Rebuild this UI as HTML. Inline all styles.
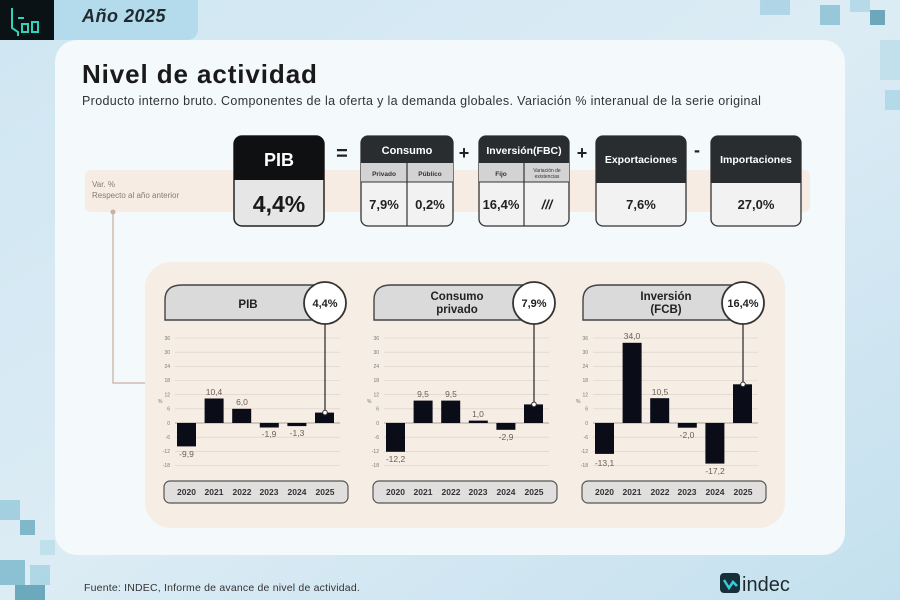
<!DOCTYPE html>
<html><head><meta charset="utf-8"><style>
html,body{margin:0;padding:0;width:900px;height:600px;overflow:hidden;background:#d5e8f2}
svg{display:block}
text{font-family:"Liberation Sans","DejaVu Sans",sans-serif}
</style></head><body>
<svg width="900" height="600" viewBox="0 0 900 600" xmlns="http://www.w3.org/2000/svg">
<defs>
<linearGradient id="bg" x1="0" y1="0" x2="1" y2="1">
<stop offset="0" stop-color="#cfe6f2"/><stop offset="0.5" stop-color="#dcecf5"/><stop offset="1" stop-color="#c4e0ee"/>
</linearGradient>
</defs>
<rect width="900" height="600" fill="url(#bg)"/>
<g opacity="0.7">
<rect x="0" y="500" width="20" height="20" fill="#8cc4d6"/><rect x="20" y="520" width="15" height="15" fill="#5aa3b8"/>
<rect x="0" y="560" width="25" height="25" fill="#6ab0c4"/><rect x="30" y="565" width="20" height="20" fill="#9ccfe0"/>
<rect x="15" y="585" width="30" height="15" fill="#3f8ea6"/><rect x="40" y="540" width="15" height="15" fill="#b5dce8"/>
<rect x="760" y="0" width="30" height="15" fill="#9fcde0"/><rect x="820" y="5" width="20" height="20" fill="#7ab9cf"/>
<rect x="870" y="10" width="15" height="15" fill="#3e8aa3"/><rect x="850" y="0" width="20" height="12" fill="#a8d3e3"/>
<rect x="880" y="40" width="20" height="40" fill="#b8dcea"/><rect x="885" y="90" width="15" height="20" fill="#a6d2e3"/>
</g>
<rect x="0" y="0" width="54" height="40" fill="#0b1216"/>
<path d="M12,8 V28 L18,32 V36 M18,18 H24 M22,24 h6 v8 h-6z M32,22 h6 v10 h-6z" stroke="#2fd3b5" stroke-width="2" fill="none"/>
<path d="M54,0 H198 V28 Q198,40 186,40 H54Z" fill="#b3dbeb"/>
<text x="82" y="22" font-size="18" font-style="italic" font-weight="bold" fill="#1f2a30" letter-spacing="0.5">Año 2025</text>
<rect x="55" y="40" width="790" height="515" rx="22" fill="#f4f9fc"/>
<text x="82" y="83" font-size="26" font-weight="bold" fill="#1a1a1a" letter-spacing="0.9">Nivel de actividad</text>
<text x="82" y="105" font-size="12.5" fill="#333" letter-spacing="0.35">Producto interno bruto. Componentes de la oferta y la demanda globales. Variación % interanual de la serie original</text>
<rect x="85" y="170" width="725" height="42" rx="6" fill="#f6ece4"/>
<text x="92" y="187" font-size="8" fill="#8a7a6e">Var. %</text>
<text x="92" y="198" font-size="8" fill="#8a7a6e">Respecto al año anterior</text>
<path d="M113,212 V383 H165" stroke="#c9b2a3" stroke-width="1.3" fill="none"/>
<circle cx="113" cy="212" r="2.5" fill="#c9b2a3"/>
<rect x="234" y="136" width="90" height="90" rx="8" fill="#e6e6e6" stroke="#222" stroke-width="1.5"/>
<path d="M234,180 V144 Q234,136 242,136 H316 Q324,136 324,144 V180Z" fill="#0f1012"/>
<text x="279" y="166" font-size="18" font-weight="bold" fill="#fff" text-anchor="middle">PIB</text>
<text x="279" y="212" font-size="23" font-weight="bold" fill="#1a1a1a" text-anchor="middle">4,4%</text>
<text x="342" y="160" font-size="20" font-weight="bold" fill="#222" text-anchor="middle">=</text>
<rect x="361" y="136" width="92" height="90" rx="7" fill="#f2f2f2" stroke="#333" stroke-width="1.3"/>
<path d="M361,163 V143 Q361,136 368,136 H446 Q453,136 453,143 V163Z" fill="#2a2d30"/>
<rect x="361" y="163" width="92" height="19" fill="#d3d3d3"/>
<line x1="407" y1="163" x2="407" y2="226" stroke="#333" stroke-width="1.2"/>
<line x1="361" y1="182" x2="453" y2="182" stroke="#333" stroke-width="1"/>
<text x="407" y="154" font-size="11" font-weight="bold" fill="#fff" text-anchor="middle">Consumo</text>
<text x="384" y="176" font-size="6.5" font-weight="bold" fill="#333" text-anchor="middle">Privado</text>
<text x="430" y="176" font-size="6.5" font-weight="bold" fill="#333" text-anchor="middle">Público</text>
<text x="384" y="209" font-size="13" font-weight="bold" fill="#222" text-anchor="middle">7,9%</text>
<text x="430" y="209" font-size="13" font-weight="bold" fill="#222" text-anchor="middle">0,2%</text>
<text x="464" y="159" font-size="18" font-weight="bold" fill="#222" text-anchor="middle">+</text>
<rect x="479" y="136" width="90" height="90" rx="7" fill="#f2f2f2" stroke="#333" stroke-width="1.3"/>
<path d="M479,163 V143 Q479,136 486,136 H562 Q569,136 569,143 V163Z" fill="#2a2d30"/>
<rect x="479" y="163" width="90" height="19" fill="#d3d3d3"/>
<line x1="524" y1="163" x2="524" y2="226" stroke="#333" stroke-width="1.2"/>
<line x1="479" y1="182" x2="569" y2="182" stroke="#333" stroke-width="1"/>
<text x="524" y="154" font-size="10.5" font-weight="bold" fill="#fff" text-anchor="middle">Inversión(FBC)</text>
<text x="501" y="176" font-size="6.5" font-weight="bold" fill="#333" text-anchor="middle">Fijo</text>
<text x="547" y="172" font-size="5" fill="#333" text-anchor="middle">Variación de</text>
<text x="547" y="178" font-size="5" fill="#333" text-anchor="middle">existencias</text>
<text x="501" y="209" font-size="13" font-weight="bold" fill="#222" text-anchor="middle">16,4%</text>
<text x="547" y="209" font-size="13" font-weight="bold" font-style="italic" fill="#222" text-anchor="middle">///</text>
<text x="582" y="159" font-size="18" font-weight="bold" fill="#222" text-anchor="middle">+</text>
<rect x="596" y="136" width="90" height="90" rx="7" fill="#f2f2f2" stroke="#333" stroke-width="1.3"/>
<path d="M596,183 V143 Q596,136 603,136 H679 Q686,136 686,143 V183Z" fill="#2a2d30"/>
<text x="641" y="163" font-size="10.5" font-weight="bold" fill="#fff" text-anchor="middle">Exportaciones</text>
<text x="641" y="209" font-size="13" font-weight="bold" fill="#222" text-anchor="middle">7,6%</text>
<text x="697" y="156" font-size="18" font-weight="bold" fill="#222" text-anchor="middle">-</text>
<rect x="711" y="136" width="90" height="90" rx="7" fill="#f2f2f2" stroke="#333" stroke-width="1.3"/>
<path d="M711,183 V143 Q711,136 718,136 H794 Q801,136 801,143 V183Z" fill="#2a2d30"/>
<text x="756" y="163" font-size="10.5" font-weight="bold" fill="#fff" text-anchor="middle">Importaciones</text>
<text x="756" y="209" font-size="13" font-weight="bold" fill="#222" text-anchor="middle">27,0%</text>
<rect x="145" y="262" width="640" height="266" rx="26" fill="#f6ede5"/>
<!-- CHART 1 -->
<g>
<g stroke="#d8d0c8" stroke-width="0.6">
<line x1="175" y1="338" x2="340" y2="338"/><line x1="175" y1="352.2" x2="340" y2="352.2"/><line x1="175" y1="366.4" x2="340" y2="366.4"/><line x1="175" y1="380.5" x2="340" y2="380.5"/><line x1="175" y1="394.7" x2="340" y2="394.7"/><line x1="175" y1="408.8" x2="340" y2="408.8"/><line x1="175" y1="437.2" x2="340" y2="437.2"/><line x1="175" y1="451.3" x2="340" y2="451.3"/><line x1="175" y1="465.5" x2="340" y2="465.5"/>
</g>
<line x1="175" y1="423" x2="340" y2="423" stroke="#888" stroke-width="0.8"/>
<g font-size="5" fill="#777" text-anchor="end">
<text x="170" y="340">36</text><text x="170" y="354">30</text><text x="170" y="368">24</text><text x="170" y="382">18</text><text x="170" y="396.5">12</text><text x="170" y="410.5">6</text><text x="170" y="425">0</text><text x="170" y="439">-6</text><text x="170" y="453">-12</text><text x="170" y="467">-18</text>
</g>
<text x="158" y="403" font-size="5" fill="#777">%</text>
<g fill="#0a0c18">
<rect x="177" y="423" width="19" height="23.4"/><rect x="204.6" y="398.5" width="19" height="24.5"/><rect x="232.2" y="408.8" width="19" height="14.2"/><rect x="259.8" y="423" width="19" height="4.5"/><rect x="287.4" y="423" width="19" height="3.1"/><rect x="315" y="412.6" width="19" height="10.4"/>
</g>
<g font-size="8.5" fill="#6b5f55" text-anchor="middle">
<text x="186.5" y="457">-9,9</text><text x="214" y="395">10,4</text><text x="242" y="405">6,0</text><text x="269" y="437">-1,9</text><text x="297" y="436">-1,3</text>
</g>
<path d="M165,320 V300 Q165,285 182,285 H330 Q335,285 335,290 V320Z" fill="#dadada" stroke="#444" stroke-width="1.4"/>
<text x="248" y="308" font-size="11.5" font-weight="bold" fill="#222" text-anchor="middle">PIB</text>
<line x1="325" y1="324" x2="325" y2="412" stroke="#333" stroke-width="1.3"/>
<circle cx="325" cy="412.6" r="2.3" fill="#fff" stroke="#333"/>
<circle cx="325" cy="303" r="21" fill="#fff" stroke="#333" stroke-width="1.8"/>
<text x="325" y="307" font-size="11" font-weight="bold" fill="#222" text-anchor="middle">4,4%</text>
<rect x="164" y="481" width="184" height="22" rx="6" fill="#e1dfdd" stroke="#555" stroke-width="1.2"/>
<g font-size="8.5" font-weight="bold" fill="#333" text-anchor="middle">
<text x="186.5" y="495">2020</text><text x="214" y="495">2021</text><text x="242" y="495">2022</text><text x="269" y="495">2023</text><text x="297" y="495">2024</text><text x="325" y="495">2025</text>
</g>
</g>
<!-- CHART 2 -->
<g transform="translate(209,0)">
<g stroke="#d8d0c8" stroke-width="0.6">
<line x1="175" y1="338" x2="340" y2="338"/><line x1="175" y1="352.2" x2="340" y2="352.2"/><line x1="175" y1="366.4" x2="340" y2="366.4"/><line x1="175" y1="380.5" x2="340" y2="380.5"/><line x1="175" y1="394.7" x2="340" y2="394.7"/><line x1="175" y1="408.8" x2="340" y2="408.8"/><line x1="175" y1="437.2" x2="340" y2="437.2"/><line x1="175" y1="451.3" x2="340" y2="451.3"/><line x1="175" y1="465.5" x2="340" y2="465.5"/>
</g>
<line x1="175" y1="423" x2="340" y2="423" stroke="#888" stroke-width="0.8"/>
<g font-size="5" fill="#777" text-anchor="end">
<text x="170" y="340">36</text><text x="170" y="354">30</text><text x="170" y="368">24</text><text x="170" y="382">18</text><text x="170" y="396.5">12</text><text x="170" y="410.5">6</text><text x="170" y="425">0</text><text x="170" y="439">-6</text><text x="170" y="453">-12</text><text x="170" y="467">-18</text>
</g>
<text x="158" y="403" font-size="5" fill="#777">%</text>
<g fill="#0a0c18">
<rect x="177" y="423" width="19" height="28.8"/><rect x="204.6" y="400.6" width="19" height="22.4"/><rect x="232.2" y="400.6" width="19" height="22.4"/><rect x="259.8" y="420.6" width="19" height="2.4"/><rect x="287.4" y="423" width="19" height="6.8"/><rect x="315" y="404.4" width="19" height="18.6"/>
</g>
<g font-size="8.5" fill="#6b5f55" text-anchor="middle">
<text x="186.5" y="462">-12,2</text><text x="214" y="397">9,5</text><text x="242" y="397">9,5</text><text x="269" y="417">1,0</text><text x="297" y="440">-2,9</text>
</g>
<path d="M165,320 V300 Q165,285 182,285 H330 Q335,285 335,290 V320Z" fill="#dadada" stroke="#444" stroke-width="1.4"/>
<text x="248" y="300" font-size="11.5" font-weight="bold" fill="#222" text-anchor="middle">Consumo</text>
<text x="248" y="313" font-size="11.5" font-weight="bold" fill="#222" text-anchor="middle">privado</text>
<line x1="325" y1="324" x2="325" y2="404" stroke="#333" stroke-width="1.3"/>
<circle cx="325" cy="404.4" r="2.3" fill="#fff" stroke="#333"/>
<circle cx="325" cy="303" r="21" fill="#fff" stroke="#333" stroke-width="1.8"/>
<text x="325" y="307" font-size="11" font-weight="bold" fill="#222" text-anchor="middle">7,9%</text>
<rect x="164" y="481" width="184" height="22" rx="6" fill="#e1dfdd" stroke="#555" stroke-width="1.2"/>
<g font-size="8.5" font-weight="bold" fill="#333" text-anchor="middle">
<text x="186.5" y="495">2020</text><text x="214" y="495">2021</text><text x="242" y="495">2022</text><text x="269" y="495">2023</text><text x="297" y="495">2024</text><text x="325" y="495">2025</text>
</g>
</g>
<!-- CHART 3 -->
<g transform="translate(418,0)">
<g stroke="#d8d0c8" stroke-width="0.6">
<line x1="175" y1="338" x2="340" y2="338"/><line x1="175" y1="352.2" x2="340" y2="352.2"/><line x1="175" y1="366.4" x2="340" y2="366.4"/><line x1="175" y1="380.5" x2="340" y2="380.5"/><line x1="175" y1="394.7" x2="340" y2="394.7"/><line x1="175" y1="408.8" x2="340" y2="408.8"/><line x1="175" y1="437.2" x2="340" y2="437.2"/><line x1="175" y1="451.3" x2="340" y2="451.3"/><line x1="175" y1="465.5" x2="340" y2="465.5"/>
</g>
<line x1="175" y1="423" x2="340" y2="423" stroke="#888" stroke-width="0.8"/>
<g font-size="5" fill="#777" text-anchor="end">
<text x="170" y="340">36</text><text x="170" y="354">30</text><text x="170" y="368">24</text><text x="170" y="382">18</text><text x="170" y="396.5">12</text><text x="170" y="410.5">6</text><text x="170" y="425">0</text><text x="170" y="439">-6</text><text x="170" y="453">-12</text><text x="170" y="467">-18</text>
</g>
<text x="158" y="403" font-size="5" fill="#777">%</text>
<g fill="#0a0c18">
<rect x="177" y="423" width="19" height="30.9"/><rect x="204.6" y="342.8" width="19" height="80.2"/><rect x="232.2" y="398.2" width="19" height="24.8"/><rect x="259.8" y="423" width="19" height="4.7"/><rect x="287.4" y="423" width="19" height="40.6"/><rect x="315" y="384.3" width="19" height="38.7"/>
</g>
<g font-size="8.5" fill="#6b5f55" text-anchor="middle">
<text x="186.5" y="466">-13,1</text><text x="214" y="339">34,0</text><text x="242" y="395">10,5</text><text x="269" y="438">-2,0</text><text x="297" y="474">-17,2</text>
</g>
<path d="M165,320 V300 Q165,285 182,285 H330 Q335,285 335,290 V320Z" fill="#dadada" stroke="#444" stroke-width="1.4"/>
<text x="248" y="300" font-size="11.5" font-weight="bold" fill="#222" text-anchor="middle">Inversión</text>
<text x="248" y="313" font-size="11.5" font-weight="bold" fill="#222" text-anchor="middle">(FCB)</text>
<line x1="325" y1="324" x2="325" y2="384" stroke="#333" stroke-width="1.3"/>
<circle cx="325" cy="384.3" r="2.3" fill="#fff" stroke="#333"/>
<circle cx="325" cy="303" r="21" fill="#fff" stroke="#333" stroke-width="1.8"/>
<text x="325" y="307" font-size="11" font-weight="bold" fill="#222" text-anchor="middle">16,4%</text>
<rect x="164" y="481" width="184" height="22" rx="6" fill="#e1dfdd" stroke="#555" stroke-width="1.2"/>
<g font-size="8.5" font-weight="bold" fill="#333" text-anchor="middle">
<text x="186.5" y="495">2020</text><text x="214" y="495">2021</text><text x="242" y="495">2022</text><text x="269" y="495">2023</text><text x="297" y="495">2024</text><text x="325" y="495">2025</text>
</g>
</g>
<text x="84" y="591" font-size="10.5" fill="#333" letter-spacing="0.2">Fuente: INDEC, Informe de avance de nivel de actividad.</text>
<rect x="720" y="573" width="20" height="20" rx="4" fill="#15303a"/>
<path d="M724,580 l5,8 l4,-6 l4,4" stroke="#3cc8d8" stroke-width="2.5" fill="none"/>
<text x="742" y="591" font-size="20" fill="#1e2b30">indec</text>
</svg>
</body></html>
